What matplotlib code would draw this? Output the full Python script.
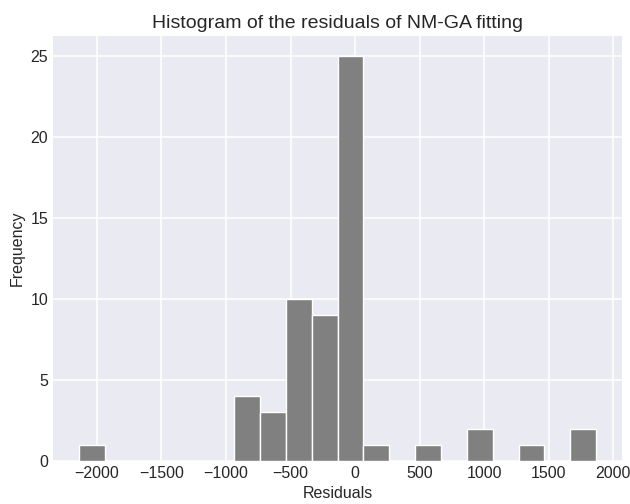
import numpy as np
import matplotlib
matplotlib.use("Agg")
import matplotlib.pyplot as plt

# residual histogram: 20 equal bins between the min and max residual
res_min = -2140.0
res_max = 1868.0
n_bins = 20
counts = [1, 0, 0, 0, 0, 0, 4, 3, 10, 9, 25, 1, 0, 1, 0, 2, 0, 1, 0, 2]

edges = np.linspace(res_min, res_max, n_bins + 1)
centers = (edges[:-1] + edges[1:]) / 2

plt.style.use('seaborn-v0_8-darkgrid')
plt.rcParams['font.family'] = ['Liberation Sans', 'DejaVu Sans']

fig, ax = plt.subplots(figsize=(6.3, 5.04), dpi=100)
ax.hist(centers, bins=edges, weights=counts, color='gray', edgecolor='white', linewidth=1.0)
ax.set_title('Histogram of the residuals of NM-GA fitting', fontsize=14)
ax.set_xlabel('Residuals', fontsize=11.5)
ax.set_ylabel('Frequency', fontsize=11.5)
ax.tick_params(labelsize=11.5)
ax.grid(linewidth=1.1)
fig.subplots_adjust(left=53/630, right=622/630, bottom=1 - 461/504, top=1 - 36/504)
fig.savefig('out.png', dpi=100)
